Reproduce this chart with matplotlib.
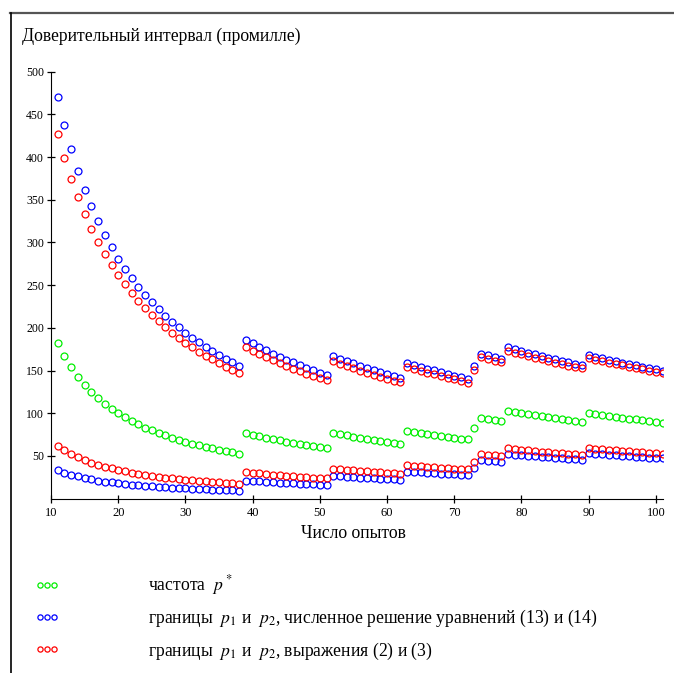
import numpy as np
import matplotlib
matplotlib.use("Agg")
import matplotlib.pyplot as plt
from matplotlib.lines import Line2D

plt.rcParams['font.family'] = ['Liberation Serif', 'DejaVu Serif']
plt.rcParams['mathtext.fontset'] = 'stix'

# number of trials
trials = np.arange(11, 102)

# frequency p* (promille)
freq = [181.8, 166.7, 153.8, 142.9, 133.3, 125.0, 117.6, 111.1, 105.3, 100.0,
        95.2, 90.9, 87.0, 83.3, 80.0, 76.9, 74.1, 71.4, 69.0, 66.7,
        64.5, 62.5, 60.6, 58.8, 57.1, 55.6, 54.1, 52.6,
        76.9, 75.0, 73.2, 71.4, 69.8, 68.2, 66.7, 65.2, 63.8, 62.5, 61.2, 60.0, 58.8,
        76.9, 75.5, 74.1, 72.7, 71.4, 70.2, 69.0, 67.8, 66.7, 65.6, 64.5,
        79.4, 78.1, 76.9, 75.8, 74.6, 73.5, 72.5, 71.4, 70.4, 69.4,
        82.2,
        94.6, 93.3, 92.1, 90.9,
        102.6, 101.3, 100.0, 98.8, 97.6, 96.4, 95.2, 94.1, 93.0, 92.0, 90.9, 89.9,
        100.0, 98.9, 97.8, 96.8, 95.7, 94.7, 93.8, 92.8, 91.8, 90.9, 90.0, 89.1]

# bounds from numerical solution of (13) and (14)
num_upper = [469.9, 437.3, 408.9, 383.9, 361.9, 342.2, 324.6, 308.7, 294.2, 281.1,
             269.1, 258.1, 247.9, 238.5, 229.8, 221.7, 214.2, 207.1, 200.5, 194.3,
             188.5, 183.0, 177.9, 173.0, 168.4, 164.0, 159.8, 155.8,
             186.3, 181.9, 177.7, 173.8, 169.9, 166.3, 162.8, 159.5, 156.2, 153.2, 150.2, 147.3, 144.6,
             167.0, 164.0, 161.1, 158.3, 155.6, 153.0, 150.5, 148.1, 145.7, 143.4, 141.2,
             159.3, 156.9, 154.6, 152.3, 150.2, 148.1, 146.0, 144.0, 142.1, 140.2,
             155.5,
             170.0, 167.9, 165.8, 163.7,
             177.2, 175.0, 172.9, 170.9, 168.9, 166.9, 165.0, 163.2, 161.3, 159.6, 157.8, 156.1,
             167.8, 166.0, 164.3, 162.6, 160.9, 159.3, 157.7, 156.1, 154.6, 153.1, 151.6, 150.1]
num_lower = [33.3, 30.4, 28.0, 26.0, 24.2, 22.7, 21.3, 20.1, 19.0, 18.1,
             17.2, 16.4, 15.7, 15.0, 14.4, 13.8, 13.3, 12.8, 12.4, 12.0,
             11.6, 11.2, 10.9, 10.6, 10.2, 10.0, 9.7, 9.4,
             21.3, 20.7, 20.2, 19.7, 19.3, 18.8, 18.4, 18.0, 17.6, 17.2, 16.9, 16.5, 16.2,
             26.7, 26.2, 25.7, 25.2, 24.8, 24.3, 23.9, 23.5, 23.1, 22.7, 22.3,
             31.8, 31.3, 30.8, 30.3, 29.9, 29.4, 29.0, 28.6, 28.2, 27.8,
             36.4,
             45.2, 44.6, 44.0, 43.4,
             52.0, 51.4, 50.7, 50.1, 49.5, 48.9, 48.3, 47.7, 47.1, 46.6, 46.0, 45.5,
             53.1, 52.6, 52.0, 51.4, 50.8, 50.3, 49.8, 49.2, 48.7, 48.2, 47.7, 47.3]

# bounds from expressions (2) and (3)
expr_upper = [427.2, 399.2, 374.7, 353.0, 333.6, 316.2, 300.6, 286.4, 273.5, 261.7,
              250.9, 240.9, 231.7, 223.1, 215.2, 207.8, 200.9, 194.5, 188.4, 182.7,
              177.4, 172.3, 167.6, 163.0, 158.8, 154.7, 150.8, 147.2,
              177.6, 173.5, 169.6, 165.8, 162.3, 158.8, 155.5, 152.4, 149.4, 146.4, 143.6, 141.0, 138.4,
              160.7, 157.9, 155.1, 152.5, 149.9, 147.4, 145.0, 142.7, 140.5, 138.3, 136.2,
              154.2, 151.9, 149.7, 147.6, 145.5, 143.5, 141.5, 139.6, 137.7, 135.9,
              151.2,
              165.7, 163.6, 161.6, 159.6,
              173.0, 170.9, 168.9, 166.9, 165.0, 163.1, 161.2, 159.4, 157.7, 155.9, 154.2, 152.6,
              164.2, 162.5, 160.8, 159.2, 157.6, 156.0, 154.4, 152.9, 151.4, 149.9, 148.5, 147.1]
expr_lower = [62.1, 56.8, 52.3, 48.5, 45.1, 42.3, 39.7, 37.5, 35.5, 33.7,
              32.0, 30.6, 29.2, 28.0, 26.8, 25.8, 24.8, 23.9, 23.1, 22.3,
              21.6, 20.9, 20.3, 19.7, 19.1, 18.6, 18.1, 17.6,
              31.2, 30.4, 29.6, 28.9, 28.2, 27.6, 27.0, 26.4, 25.8, 25.2, 24.7, 24.2, 23.8,
              35.0, 34.3, 33.7, 33.1, 32.5, 31.9, 31.3, 30.8, 30.3, 29.8, 29.3,
              39.2, 38.5, 37.9, 37.4, 36.8, 36.2, 35.7, 35.2, 34.7, 34.2,
              43.1,
              52.1, 51.4, 50.7, 50.0,
              58.8, 58.0, 57.3, 56.6, 55.9, 55.2, 54.5, 53.8, 53.2, 52.6, 52.0, 51.4,
              59.1, 58.4, 57.8, 57.2, 56.6, 56.0, 55.4, 54.8, 54.2, 53.7, 53.1, 52.6]

labels = [r"частота  $p^*$",
          r"границы  $p_1$ и  $p_2$, численное решение уравнений (13) и (14)",
          r"границы  $p_1$ и  $p_2$, выражения (2) и (3)"]

fig = plt.figure(figsize=(6.74, 6.73), dpi=100)
ax = fig.add_axes([0.0757, 0.259, 0.908, 0.6345])

mk = dict(linestyle='none', marker='o', markersize=5, markerfacecolor='none',
          markeredgewidth=0.9)
g, = ax.plot(trials, freq, color='#00ee00', **mk)
b, = ax.plot(trials, num_upper, color='#0000ff', **mk)
ax.plot(trials, num_lower, color='#0000ff', **mk)
r, = ax.plot(trials, expr_upper, color='#ff0000', **mk)
ax.plot(trials, expr_lower, color='#ff0000', **mk)

ax.set_xlim(10, 101.07)
ax.set_ylim(0, 500)
ax.set_xticks(range(10, 101, 10))
ax.set_yticks(range(50, 501, 50))
ax.spines['top'].set_visible(False)
ax.spines['right'].set_visible(False)
ax.tick_params(direction='inout', length=6, width=0.9, labelsize=8.5, pad=2)
ax.tick_params(axis='x', labelsize=9, pad=3)

fig.text(22 / 674, 1 - 36 / 673, "Доверительный интервал (промилле)",
         fontsize=12.7, va='center', ha='left')
fig.text(353 / 674, 1 - 533 / 673, "Число опытов", fontsize=12.7,
         va='center', ha='center')

fig.legend([g, b, r], labels, loc='upper left', bbox_to_anchor=(0.0515, 0.148),
           frameon=False, numpoints=3, markerscale=0.75, handlelength=1.4,
           handletextpad=5.04, labelspacing=0.62, fontsize=12.7,
           borderaxespad=0, borderpad=0)

# page frame
fig.add_artist(Line2D([0.015, 1.0], [0.9814, 0.9814], color='#555555', lw=1.6,
                      transform=fig.transFigure))
fig.add_artist(Line2D([0.0163, 0.0163], [0.0, 0.9814], color='black', lw=1.2,
                      transform=fig.transFigure))

fig.savefig("out.png", dpi=100)
